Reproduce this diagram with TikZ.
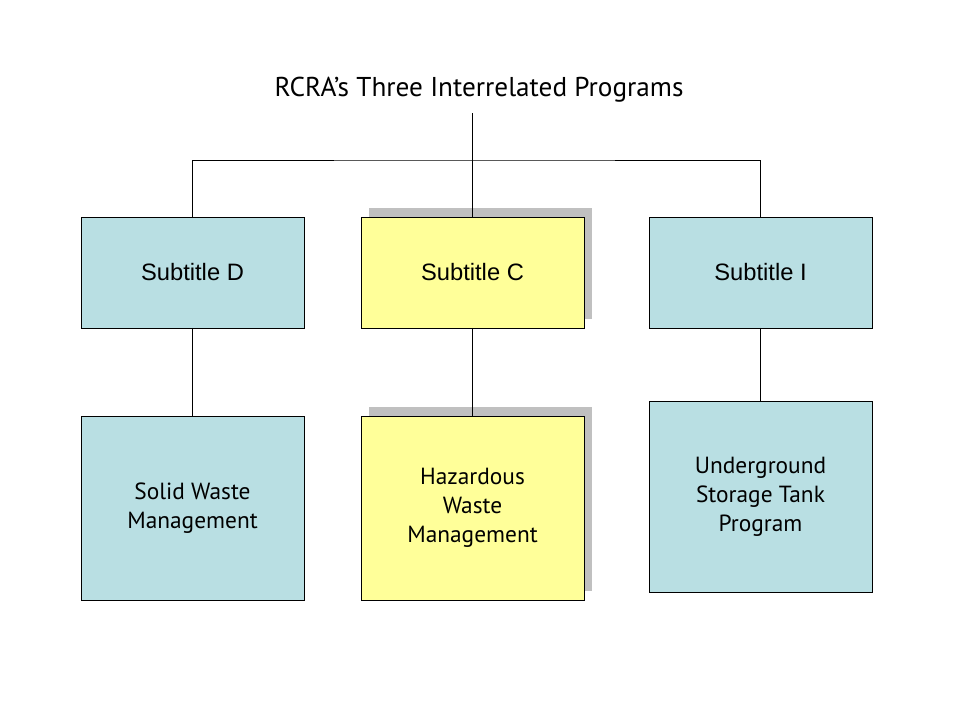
\documentclass[tikz,border=0pt]{standalone}
\usepackage{fontspec}
\setmainfont{Liberation Sans}
\newfontfamily\fgfont{PT Sans}
\usetikzlibrary{positioning}
\definecolor{boxblue}{RGB}{185,223,227}
\definecolor{boxyellow}{RGB}{255,255,153}
\definecolor{shadowgray}{RGB}{192,192,192}
\tikzset{
 prog/.style={draw,fill=boxblue,minimum width=4.46cm,minimum height=2.22cm,inner sep=0pt,outer sep=0pt,font=\fontsize{13.5}{16}\selectfont},
 keyprog/.style={prog,fill=boxyellow},
 task/.style={prog,minimum height=3.68cm,align=center,font=\fgfont\fontsize{13.3}{16.5}\selectfont},
 keytask/.style={task,fill=boxyellow},
 shade/.style={fill=shadowgray,draw=none,minimum width=4.46cm,inner sep=0pt,outer sep=0pt}
}
\begin{document}
\begin{tikzpicture}[x=0.02cm,y=-0.02cm]
 \useasboundingbox (0,0) rectangle (960,720);
 \node[font=\fgfont\fontsize{15.5}{19}\selectfont] (title) at (479,90) {RCRA’s Three Interrelated Programs}; %表題
 \node[shade,minimum height=2.22cm] at (480.5,263.5) {}; %影
 \node[shade,minimum height=3.68cm] at (480.5,499) {}; %影
 \node[prog] (subD) at (192.5,272.5) {Subtitle D};
 \node[keyprog] (subC) at (472.5,272.5) {Subtitle C};
 \node[prog] (subI) at (760.5,272.5) {Subtitle I};
 \node[task] (solid) at (192.5,508) {Solid Waste\\ Management};
 \node[keytask] (haz) at (472.5,508) {Hazardous\\ Waste\\ Management};
 \node[task,minimum height=3.82cm] (ust) at (760.5,496.5) {Underground\\ Storage Tank\\ Program};
 \coordinate (split) at (472.5,160); %分岐点
 \coordinate (stem) at (472.5,113);
 \draw (stem)--(split)--(subC.north);
 \draw (subD.north)|-(split)-|(subI.north);
 \draw (subD)--(solid) (subC)--(haz) (subI)--(ust);
\end{tikzpicture}
\end{document}
